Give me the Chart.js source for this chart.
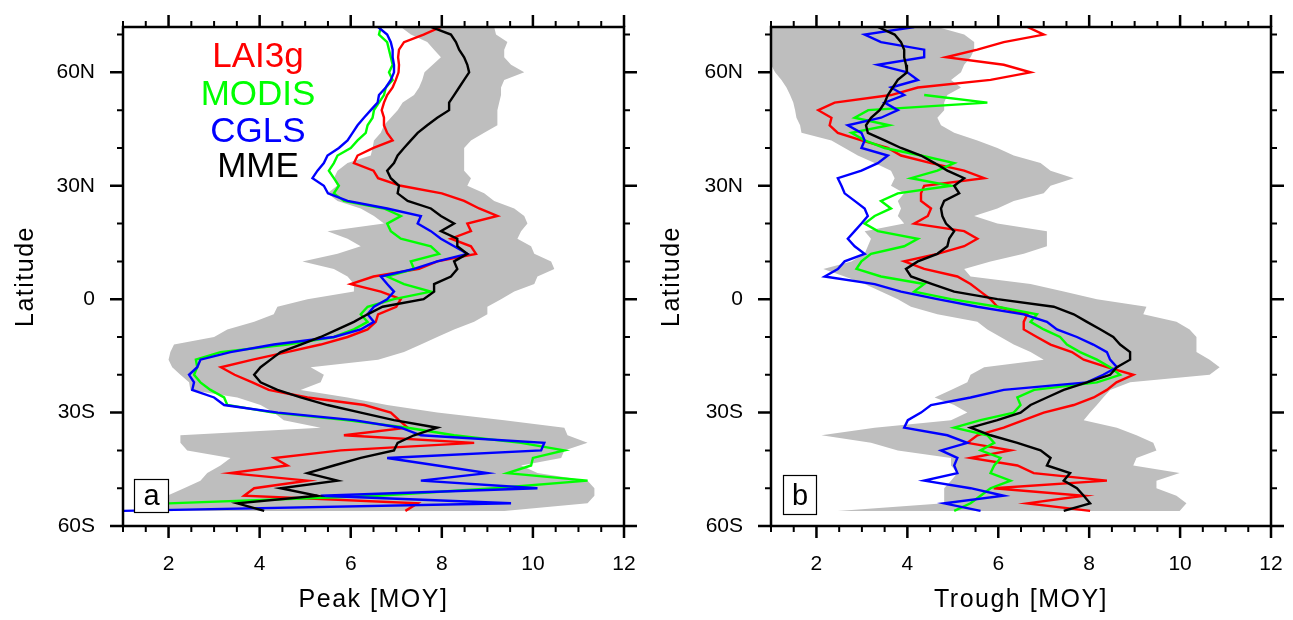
<!DOCTYPE html>
<html>
<head>
<meta charset="utf-8">
<script src="https://cdn.jsdelivr.net/npm/chart.js@4.4.1/dist/chart.umd.min.js"></script>
<style>
  html, body { margin: 0; padding: 0; background: #fff; }
  #wrap { position: relative; width: 1293px; height: 620px; }
  #wrap canvas { position: absolute; top: 0; }
</style>
</head>
<body>
<div id="wrap">
  <canvas id="peak" width="646" height="620" style="left:0"></canvas>
  <canvas id="trough" width="647" height="620" style="left:646px"></canvas>
</div>
<script>
// latitude of each sample (deg, N positive)
const lat = [72, 70, 68, 66, 64, 62, 60, 58, 56, 54, 52, 50, 48, 46, 44,
  42, 40, 38, 36, 34, 32, 30, 28, 26, 24, 22, 20, 18, 16, 14,
  12, 10, 8, 6, 4, 2, 0, -2, -4, -6, -8, -10, -12, -14, -16,
  -18, -20, -22, -24, -26, -28, -30, -32, -34, -36, -38, -40, -42, -44, -46,
  -48, -50, -52, -54, -56];

// panel a: peak month of year
const peakLai3g = [7.98, 7.6, 7.17, 7.06, 7.04, 7.06, 7.05, 6.99, 6.92, 6.8, 6.73, 6.68, 6.73, 6.73, 6.8,
  6.92, 6.5, 6.15, 6.07, 6.5, 6.6, 7.1, 8.0, 8.49, 8.82, 9.22, 8.56, 8.64, 8.2, 8.64,
  8.75, 7.9, 7.5, 6.5, 6.0, 6.66, 7.1, 7.0, 6.6, 6.55, 6.37, 5.93, 5.34, 4.6, 3.85,
  3.15, 3.45, 3.84, 4.2, 5.05, 6.3, 6.88, 7.06, 7.25, 5.85, 8.71, 5.78, 4.32, 4.61, 3.36,
  5.05, 3.88, 3.66, 7.47, 7.2];
const peakModis = [6.66, 6.62, 6.8, 6.84, 6.88, 6.92, 6.84, 6.92, 6.77, 6.73, 6.62, 6.51, 6.48, 6.37, 6.33,
  6.15, 6.0, 5.71, 5.63, 5.52, 5.63, 5.74, 5.63, 5.85, 6.73, 7.1, 6.8, 6.88, 7.1, 7.76,
  7.94, 7.32, 7.39, 6.8, 7.17, 7.76, 6.95, 6.37, 6.22, 6.37, 6.07, 5.63, 4.61, 3.14, 2.6,
  2.63, 2.56, 2.7, 2.92, 3.22, 3.29, 4.3, 5.9, 7.25, 8.27, 9.74, 10.69, 10.0, 9.96, 9.44,
  11.2, 9.15, 6.59, 2.0, 1.6];
const peakCgls = [6.6, 6.8, 6.88, 6.92, 6.92, 6.95, 6.95, 6.88, 6.77, 6.62, 6.59, 6.44, 6.29, 6.15, 6.04,
  5.93, 5.74, 5.49, 5.41, 5.27, 5.16, 5.41, 5.5, 5.93, 6.8, 7.54, 7.47, 7.76, 7.98, 8.27,
  8.56, 7.9, 7.39, 6.66, 6.8, 6.95, 6.8, 6.51, 6.37, 6.51, 6.22, 5.63, 4.31, 3.36, 2.7,
  2.63, 2.45, 2.56, 2.52, 3.0, 3.22, 4.4, 6.07, 7.1, 7.54, 10.25, 10.18, 6.8, 7.9, 9.0,
  7.54, 10.1, 5.34, 9.52, 1.0];
const peakMme = [7.76, 8.2, 8.31, 8.38, 8.49, 8.56, 8.6, 8.49, 8.38, 8.27, 8.16, 8.16, 7.9, 7.68, 7.47,
  7.32, 7.17, 7.03, 6.95, 6.8, 6.88, 7.06, 7.03, 7.25, 7.76, 7.98, 8.27, 7.98, 8.34, 8.34,
  8.56, 8.27, 8.34, 8.2, 7.83, 7.83, 7.6, 6.7, 6.37, 6.07, 5.71, 5.34, 4.9, 4.46, 4.24,
  4.02, 3.88, 4.02, 4.39, 4.9, 5.49, 6.22, 6.95, 7.9, 7.39, 7.03, 6.95, 6.22, 5.63, 5.05,
  5.71, 4.46, 5.27, 3.51, 4.1];
const peakMin = [7.1, 7.32, 7.68, 7.83, 7.98, 7.8, 7.62, 7.57, 7.5, 7.39, 7.14, 7.03, 6.88, 6.73, 6.66,
  6.51, 6.48, 6.44, 5.93, 5.71, 5.63, 5.7, 5.49, 5.71, 6.22, 6.51, 6.73, 5.49, 5.93, 6.22,
  5.71, 4.94, 5.63, 5.93, 6.07, 6.07, 5.05, 4.39, 4.31, 3.88, 3.29, 3.0, 2.12, 2.04, 2.0,
  2.08, 2.26, 2.45, 2.48, 3.51, 4.02, 4.31, 4.53, 5.34, 2.26, 2.26, 2.41, 3.36, 3.14, 2.85,
  2.7, 2.34, 1.97, 1.9, 1.9];
const peakMax = [9.15, 9.19, 9.44, 9.37, 9.37, 9.52, 9.81, 9.37, 9.3, 9.3, 9.26, 9.22, 9.22, 9.22, 8.93,
  8.64, 8.49, 8.49, 8.49, 8.49, 8.64, 8.56, 8.93, 9.15, 9.59, 9.81, 9.88, 9.74, 9.66, 9.96,
  10.03, 10.4, 10.47, 10.1, 10.03, 9.59, 9.3, 9.0, 9.0, 8.71, 8.27, 7.9, 7.54, 7.17, 6.6,
  5.12, 5.41, 5.34, 4.9, 5.93, 6.8, 7.9, 9.37, 10.69, 10.76, 11.2, 10.69, 10.62, 9.74, 10.1,
  11.2, 11.35, 11.35, 11.2, 9.37];

// panel b: trough month of year
const troughLai3g = [6.64, 7.0, 6.12, 5.54, 4.85, 6.12, 6.71, 5.83, 4.23, 3.64, 2.4, 2.04, 2.33, 2.29, 2.47,
  2.99, 3.57, 3.86, 4.52, 5.25, 5.69, 4.37, 4.3, 4.3, 4.52, 4.45, 4.15, 5.25, 5.54, 5.25,
  4.66, 3.93, 4.37, 5.1, 5.39, 5.61, 5.83, 5.98, 6.64, 6.56, 6.56, 6.85, 7.15, 7.62, 7.88,
  8.39, 8.97, 8.6, 8.39, 8.1, 7.66, 7.0, 6.56, 6.12, 5.54, 5.32, 6.27, 5.39, 6.42, 6.78,
  8.39, 5.9, 7.88, 6.64, 8.02];
const troughModis = [null, null, null, null, null, null, null, null, null, 4.37, 5.76, 3.14, 2.84, 3.6, 2.77,
  3.06, 3.5, 4.3, 5.03, 4.66, 4.08, 4.96, 3.79, 3.42, 3.64, 3.28, 3.06, 3.35, 4.23, 3.93,
  3.2, 2.99, 2.88, 3.42, 4.37, 4.15, 4.96, 5.98, 6.85, 6.71, 7.0, 7.36, 7.51, 7.8, 8.17,
  8.46, 8.68, 8.17, 6.79, 6.42, 6.49, 6.34, 5.61, 5.03, 5.76, 5.91, 5.61, 6.05, 5.91, 5.83,
  6.27, 5.83, 5.61, 5.39, 5.03];
const troughCgls = [4.15, 3.06, 3.42, 4.37, 4.37, 3.35, 4.0, 4.23, 3.64, 3.93, 3.5, 3.79, 3.42, 2.69, 2.99,
  3.06, 2.99, 3.57, 3.35, 2.99, 2.47, 2.55, 2.62, 2.84, 3.06, 3.13, 2.99, 2.84, 2.69, 2.84,
  3.06, 2.62, 2.47, 2.18, 3.28, 3.86, 4.66, 5.54, 6.56, 7.07, 7.29, 7.73, 8.09, 8.39, 8.46,
  8.61, 8.31, 7.95, 6.12, 5.39, 4.52, 4.3, 4.01, 3.93, 4.88, 5.32, 4.74, 5.1, 5.03, 5.1,
  4.37, 5.39, 6.12, 4.81, 5.61];
const troughMme = [3.35, 3.72, 3.86, 3.93, 3.93, 3.97, 3.99, 3.79, 3.68, 3.57, 3.5, 3.39, 3.2, 3.09, 3.13,
  3.5, 3.86, 4.3, 4.6, 4.88, 5.25, 5.03, 5.14, 4.81, 4.74, 4.77, 4.85, 5.03, 4.92, 4.88,
  4.66, 4.23, 3.97, 4.08, 4.55, 5.03, 5.98, 7.22, 7.66, 7.95, 8.25, 8.53, 8.68, 8.9, 8.9,
  8.61, 8.46, 7.95, 7.44, 7.07, 6.71, 6.49, 5.98, 5.39, 5.83, 6.42, 6.93, 7.15, 7.07, 7.58,
  7.44, 7.73, 7.88, 8.02, 7.44];
const troughMin = [1.0, 1.0, 1.0, 1.0, 1.0, 1.0, 1.09, 1.23, 1.34, 1.42, 1.49, 1.53, 1.56, 1.64, 1.67,
  2.33, 2.62, 2.91, 3.28, 3.64, 3.72, 3.64, 3.93, 3.79, 3.86, 3.79, 3.93, 3.06, 3.2, 3.13,
  3.06, 2.77, 2.15, 2.62, 3.06, 3.42, 3.79, 4.08, 4.66, 5.54, 5.76, 6.05, 6.34, 6.71, 7.0,
  5.69, 5.39, 5.32, 4.96, 4.6, 5.03, 5.32, 4.96, 3.28, 2.11, 3.2, 3.79, 4.96, 4.96, 5.1,
  4.96, 4.81, 4.81, 4.81, 2.47];
const troughMax = [4.66, 5.25, 5.47, 5.47, 5.39, 5.25, 5.18, 4.96, 5.18, 4.88, 4.81, 4.81, 4.66, 4.74, 5.03,
  5.54, 5.98, 6.34, 6.93, 7.15, 7.66, 7.15, 7.0, 6.34, 5.98, 5.47, 5.98, 7.07, 7.07, 7.07,
  6.56, 5.83, 5.25, 5.39, 6.71, 7.44, 8.17, 9.26, 9.19, 9.92, 10.21, 10.36, 10.36, 10.36, 10.65,
  10.87, 10.65, 8.9, 8.46, 8.31, 8.17, 8.02, 7.88, 8.61, 9.04, 9.41, 9.48, 9.04, 8.97, 9.99,
  9.48, 9.48, 9.92, 10.14, 9.99];

const seriesNames = ['LAI3g', 'MODIS', 'CGLS', 'MME'];
const seriesColors = ['#ff0000', '#00ff00', '#0000ff', '#000000'];
const xTicks = [2, 4, 6, 8, 10, 12];
const yTicks = [-60, -30, 0, 30, 60];

const FONT = '"Liberation Sans", Arial, Helvetica, sans-serif';

function points(values) {
  const out = [];
  values.forEach((v, i) => { if (v !== null) out.push({ x: v, y: lat[i] }); });
  return out;
}

// closed outline: low edge north->south, then high edge south->north
function band(lo, hi) {
  const left = points(lo);
  const right = points(hi).reverse();
  return left.concat(right);
}

function latLabel(v) {
  if (v > 0) return v + 'N';
  if (v < 0) return (-v) + 'S';
  return '0';
}

function noPad(s) {
  s.paddingTop = 0; s.paddingBottom = 0; s.paddingLeft = 0; s.paddingRight = 0;
}

// frame, NCL style outward ticks, titles, legend and panel letter
const nclDecor = {
  id: 'nclDecor',
  afterDraw(chart, args, o) {
    const { ctx, chartArea: a } = chart;
    const x = chart.scales.x, y = chart.scales.y;
    ctx.save();
    ctx.strokeStyle = '#000';
    ctx.fillStyle = '#000';

    for (let v = -60; v <= 70; v += 10) {
      const py = y.getPixelForValue(v);
      const len = v % 30 === 0 ? 13 : 6;
      ctx.lineWidth = v % 30 === 0 ? 2.5 : 2;
      ctx.beginPath();
      ctx.moveTo(a.left - len, py); ctx.lineTo(a.left, py);
      ctx.moveTo(a.right, py); ctx.lineTo(a.right + len, py);
      ctx.stroke();
    }
    for (let v = 1; v <= 12; v += 0.5) {
      const px = x.getPixelForValue(v);
      const len = v % 2 === 0 ? 12 : 6;
      ctx.lineWidth = v % 2 === 0 ? 2.5 : 2;
      ctx.beginPath();
      ctx.moveTo(px, a.bottom); ctx.lineTo(px, a.bottom + len);
      ctx.moveTo(px, a.top - len); ctx.lineTo(px, a.top);
      ctx.stroke();
    }
    ctx.lineWidth = 2.5;
    ctx.strokeRect(a.left, a.top, a.right - a.left, a.bottom - a.top);

    // axis titles
    ctx.font = '25px ' + FONT;
    ctx.letterSpacing = '1.5px';
    ctx.textAlign = 'center';
    ctx.textBaseline = 'alphabetic';
    ctx.fillText(o.xTitle, (a.left + a.right) / 2, 607);
    ctx.save();
    ctx.translate(33, (a.top + a.bottom) / 2);
    ctx.rotate(-Math.PI / 2);
    ctx.fillText('Latitude', 0, 0);
    ctx.restore();
    ctx.letterSpacing = '0px';

    // legend text
    if (o.legend) {
      ctx.font = '35px ' + FONT;
      const base = [67, 105, 142, 177];
      seriesNames.forEach((n, i) => {
        ctx.fillStyle = seriesColors[i];
        ctx.fillText(n, 258, base[i]);
      });
    }

    // panel letter
    const b = o.box;
    ctx.fillStyle = '#fff';
    ctx.fillRect(b[0], b[1], b[2], b[3]);
    ctx.lineWidth = 1.2;
    ctx.strokeRect(b[0] + 0.5, b[1] + 0.5, b[2], b[3]);
    ctx.fillStyle = '#000';
    ctx.font = '29px ' + FONT;
    ctx.fillText(o.letter, b[0] + b[2] / 2 + 0.5, 505);
    ctx.restore();
  }
};

function makePanel(id, vals, lo, hi, leftW, rightPad, opts) {
  const datasets = vals.map((v, i) => ({
    label: seriesNames[i],
    data: points(v),
    borderColor: seriesColors[i],
    borderWidth: 2.4,
    order: 4 - i
  }));
  datasets.push({
    label: 'range',
    data: band(lo, hi),
    fill: 'shape',
    backgroundColor: '#bebebe',
    borderColor: 'rgba(0,0,0,0)',
    borderWidth: 0,
    order: 10
  });

  new Chart(document.getElementById(id), {
    type: 'scatter',
    data: { datasets: datasets },
    options: {
      responsive: false,
      animation: false,
      layout: { padding: { left: 0, right: rightPad, top: 27, bottom: 0 } },
      elements: { point: { radius: 0 }, line: { tension: 0, borderJoinStyle: 'miter' } },
      datasets: { scatter: { showLine: true } },
      plugins: {
        legend: { display: false },
        tooltip: { enabled: false },
        nclDecor: opts
      },
      scales: {
        x: {
          type: 'linear', min: 1, max: 12,
          afterBuildTicks: s => { s.ticks = xTicks.map(v => ({ value: v })); },
          afterFit: s => { s.height = 94; noPad(s); },
          grid: { display: false, drawTicks: false },
          border: { display: false },
          ticks: { color: '#000', padding: 26, font: { family: FONT, size: 21 } }
        },
        y: {
          type: 'linear', min: -60, max: 72,
          afterBuildTicks: s => { s.ticks = yTicks.map(v => ({ value: v })); },
          afterFit: s => { s.width = leftW; noPad(s); },
          grid: { display: false, drawTicks: false },
          border: { display: false },
          ticks: { color: '#000', padding: 28, font: { family: FONT, size: 21 }, callback: v => latLabel(v) }
        }
      }
    },
    plugins: [nclDecor]
  });
}

makePanel('peak', [peakLai3g, peakModis, peakCgls, peakMme], peakMin, peakMax, 123, 22,
  { xTitle: 'Peak [MOY]', legend: true, letter: 'a', box: [134, 479, 34, 33] });
makePanel('trough', [troughLai3g, troughModis, troughCgls, troughMme], troughMin, troughMax, 125, 22,
  { xTitle: 'Trough [MOY]', legend: false, letter: 'b', box: [137, 475, 33, 39] });
</script>
</body>
</html>
